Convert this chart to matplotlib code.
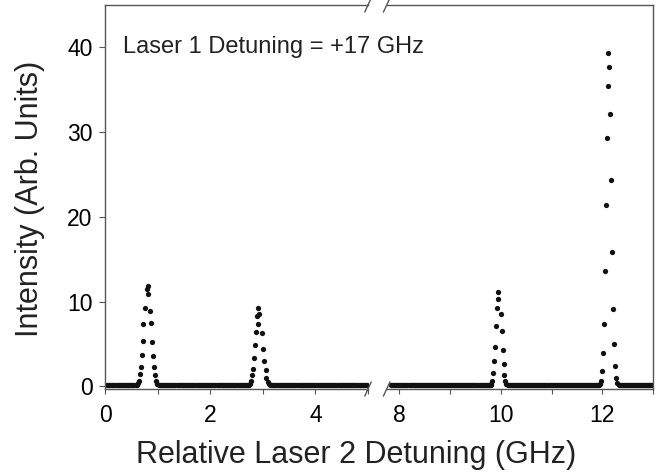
import matplotlib
matplotlib.use("Agg")
import matplotlib.pyplot as plt
import numpy as np

plt.rcParams['font.family'] = ['Liberation Sans', 'DejaVu Sans']

# peak points (GHz, arb. units)
peak1_x = [0.62, 0.64, 0.665, 0.68, 0.70, 0.72, 0.73, 0.76, 0.80, 0.82, 0.825,
           0.855, 0.875, 0.89, 0.91, 0.93, 0.95, 0.97, 0.99]
peak1_y = [0.35, 0.7, 1.5, 2.3, 3.75, 5.4, 7.4, 9.3, 11.5, 11.9, 10.9,
           8.9, 7.5, 5.3, 3.6, 2.3, 1.3, 0.6, 0.3]

peak2_x = [2.75, 2.77, 2.79, 2.81, 2.83, 2.85, 2.865, 2.895, 2.90, 2.915, 2.93,
           2.98, 3.01, 3.03, 3.06, 3.07, 3.09, 3.11]
peak2_y = [0.3, 0.6, 1.4, 2.1, 3.3, 4.85, 6.4, 8.3, 7.4, 9.2, 8.6,
           6.3, 4.45, 3.0, 1.9, 1.0, 0.5, 0.25]

peak3_x = [9.81, 9.83, 9.85, 9.86, 9.88, 9.90, 9.92, 9.94, 9.95,
           10.0, 10.02, 10.05, 10.06, 10.07, 10.09, 10.11]
peak3_y = [0.3, 0.7, 1.6, 3.0, 4.65, 7.1, 9.2, 10.3, 11.1,
           8.6, 6.6, 4.3, 2.6, 1.3, 0.6, 0.25]

peak4_x = [11.96, 11.98, 11.99, 12.01, 12.03, 12.05, 12.07, 12.09, 12.11, 12.12,
           12.14, 12.16, 12.18, 12.20, 12.21, 12.23, 12.25, 12.27, 12.29]
peak4_y = [0.25, 0.6, 1.8, 3.9, 7.4, 13.6, 21.4, 29.3, 35.4, 39.3,
           37.7, 32.2, 24.4, 15.9, 9.1, 5.0, 2.4, 1.0, 0.4]

# flat background between peaks: scan ranges (start, stop) in GHz, level
scan_ranges = [(0.04, 4.98), (7.84, 12.98)]
scan_step = 0.02
base_level = 0.15

peaks = [(peak1_x, peak1_y), (peak2_x, peak2_y), (peak3_x, peak3_y), (peak4_x, peak4_y)]

xs, ys = [], []
for lo, hi in scan_ranges:
    for x in np.arange(lo, hi + 1e-9, scan_step):
        if any(min(px) - 0.01 <= x <= max(px) + 0.01 for px, _ in peaks):
            continue
        xs.append(x)
        ys.append(base_level)
for px, py in peaks:
    xs += px
    ys += py
xs = np.array(xs)
ys = np.array(ys)

fig = plt.figure(figsize=(6.6, 4.73), dpi=100)
ax1 = fig.add_axes([105 / 660, 84 / 473, 263 / 660, 384 / 473])
ax2 = fig.add_axes([386.7 / 660, 84 / 473, 266.3 / 660, 384 / 473])
ax2.set_facecolor('none')

spine_c = '#555555'
for ax in (ax1, ax2):
    ax.plot(xs, ys, 'o', color='#111111', ms=3.8, mec='none')
    ax.set_ylim(-0.3, 45)
    for s in ax.spines.values():
        s.set_color(spine_c)
        s.set_linewidth(1.0)
    ax.tick_params(axis='x', direction='out', length=3.5, color=spine_c,
                   labelsize=16.5, pad=7)

ax1.set_xlim(0, 5)
ax2.set_xlim(7.75, 13)
ax1.spines['right'].set_visible(False)
ax2.spines['left'].set_visible(False)

ax1.set_xticks([0, 1, 2, 3, 4, 5])
ax1.set_xticklabels(['0', '', '2', '', '4', ''])
ax2.set_xticks([8, 9, 10, 11, 12, 13])
ax2.set_xticklabels(['8', '', '10', '', '12', ''])

ax1.set_yticks([0, 10, 20, 30, 40])
ax1.tick_params(axis='y', direction='out', length=4, color=spine_c,
                labelsize=16.5, pad=5)
ax2.tick_params(axis='y', left=False, right=False, labelleft=False)

# break marks
d = 0.02
kw = dict(color=spine_c, lw=1.0, clip_on=False)
ax1.plot([1 - d * 0.6, 1 + d * 0.6], [-d * 0.9, d * 0.9], transform=ax1.transAxes, **kw)
ax1.plot([1 - d * 0.6, 1 + d * 0.6], [1 - d * 0.9, 1 + d * 0.9], transform=ax1.transAxes, **kw)
ax2.plot([-d * 0.6, d * 0.6], [-d * 0.9, d * 0.9], transform=ax2.transAxes, **kw)
ax2.plot([-d * 0.6, d * 0.6], [1 - d * 0.9, 1 + d * 0.9], transform=ax2.transAxes, **kw)

ax1.text(0.34, 40, 'Laser 1 Detuning = +17 GHz', fontsize=17, va='center',
         ha='left', color='#222222')

fig.text(356 / 660, 1 - 455 / 473, 'Relative Laser 2 Detuning (GHz)', fontsize=22,
         ha='center', va='center', color='#222222')
fig.text(30 / 660, 1 - 199 / 473, 'Intensity (Arb. Units)', fontsize=22, rotation=90,
         ha='center', va='center', color='#222222')

fig.savefig('out.png', dpi=100)
